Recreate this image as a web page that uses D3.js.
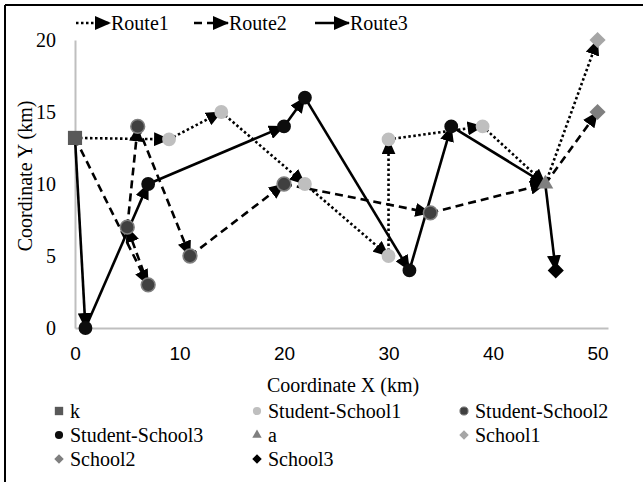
<!DOCTYPE html>
<html>
<head>
<meta charset="utf-8">
<script src="https://cdn.jsdelivr.net/npm/d3@7"></script>
<style>
  body { margin: 0; background: #fff; }
</style>
</head>
<body>
<div id="chart"></div>
<script>
(() => {
  // point series (x, y in km)
  const kX = [0], kY = [13.2];
  const ss1X = [9, 14, 22, 30, 30, 39], ss1Y = [13.1, 15, 10, 5, 13.1, 14];
  const ss2X = [6, 5, 7, 11, 20, 34], ss2Y = [14, 7, 3, 5, 10, 8];
  const ss3X = [1, 7, 20, 22, 32, 36], ss3Y = [0, 10, 14, 16, 4, 14];
  const aX = [45], aY = [10];
  const school1X = [50], school1Y = [20];
  const school2X = [50], school2Y = [15];
  const school3X = [46], school3Y = [4];

  // routes (visiting order)
  const route1X = [0, 9, 14, 22, 30, 30, 39, 45, 50];
  const route1Y = [13.2, 13.1, 15, 10, 5, 13.1, 14, 10, 20];
  const route2X = [0, 7, 5, 6, 11, 20, 34, 45, 50];
  const route2Y = [13.2, 3, 7, 14, 5, 10, 8, 10, 15];
  const route3X = [0, 1, 7, 20, 22, 32, 36, 45, 46];
  const route3Y = [13.2, 0, 10, 14, 16, 4, 14, 10, 4];

  const xTicks = [0, 10, 20, 30, 40, 50];
  const yTicks = [0, 5, 10, 15, 20];

  const serif = "'Liberation Serif', 'Times New Roman', serif";
  const sans = "'Liberation Sans', Arial, sans-serif";

  const W = 643, H = 482;
  const svg = d3.select("#chart").append("svg")
    .attr("width", W).attr("height", H);

  // frame (left + top edges)
  svg.append("line").attr("x1", 5).attr("y1", 5).attr("x2", W).attr("y2", 5)
    .attr("stroke", "#000").attr("stroke-width", 2);
  svg.append("line").attr("x1", 5).attr("y1", 5).attr("x2", 5).attr("y2", H)
    .attr("stroke", "#000").attr("stroke-width", 2);

  let x = d3.scaleLinear().domain([0, 51]).range([75, 608]);
  let y = d3.scaleLinear().domain([0, 20]).range([328, 40]);

  // axes
  let xAxis = svg.append("g")
    .attr("transform", `translate(0,${y(0)})`)
    .call(d3.axisBottom(x).tickValues(xTicks).tickSize(0).tickSizeOuter(0).tickPadding(19));
  xAxis.select(".domain").attr("stroke", "#bfbfbf").attr("stroke-width", 2);
  xAxis.selectAll("text")
    .attr("font-family", sans).attr("font-size", 19).attr("fill", "#000");

  let yAxis = svg.append("g")
    .attr("transform", `translate(${x(0)},0)`)
    .call(d3.axisLeft(y).tickValues(yTicks).tickSize(0).tickSizeOuter(0).tickPadding(19));
  yAxis.select(".domain").attr("stroke", "#bfbfbf").attr("stroke-width", 2);
  yAxis.selectAll("text")
    .attr("font-family", serif).attr("font-size", 20).attr("fill", "#000");

  // axis titles
  svg.append("text")
    .attr("x", 343).attr("y", 392)
    .attr("text-anchor", "middle")
    .attr("font-family", serif).attr("font-size", 20)
    .text("Coordinate X (km)");
  svg.append("text")
    .attr("transform", "rotate(-90)")
    .attr("x", -176).attr("y", 32)
    .attr("text-anchor", "middle")
    .attr("font-family", serif).attr("font-size", 20)
    .text("Coordinate Y (km)");

  // arrowhead
  svg.append("defs").append("marker")
    .attr("id", "arrow")
    .attr("markerUnits", "userSpaceOnUse")
    .attr("markerWidth", 16).attr("markerHeight", 14)
    .attr("refX", 15).attr("refY", 7)
    .attr("orient", "auto")
    .append("path")
    .attr("d", "M0,0 L16,7 L0,14 Z")
    .attr("fill", "#000");

  const routes = [
    { name: "Route1", xs: route1X, ys: route1Y, dash: "2.5,2.5" },
    { name: "Route2", xs: route2X, ys: route2Y, dash: "8,5" },
    { name: "Route3", xs: route3X, ys: route3Y, dash: null }
  ];

  routes.forEach(r => {
    let segs = d3.range(r.xs.length - 1).map(i => [i, i + 1]);
    svg.append("g").selectAll("line")
      .data(segs)
      .enter().append("line")
      .attr("x1", d => x(r.xs[d[0]]))
      .attr("y1", d => y(r.ys[d[0]]))
      .attr("x2", d => x(r.xs[d[1]]))
      .attr("y2", d => y(r.ys[d[1]]))
      .attr("stroke", "#000")
      .attr("stroke-width", 2.6)
      .attr("stroke-dasharray", r.dash)
      .attr("marker-end", "url(#arrow)");
  });

  // point series; diamonds are squares turned 45 degrees
  const series = [
    { name: "k", xs: kX, ys: kY, shape: d3.symbolSquare, size: 200, rot: 0, fill: "#595959", stroke: "none" },
    { name: "Student-School1", xs: ss1X, ys: ss1Y, shape: d3.symbolCircle, size: 150, rot: 0, fill: "#bfbfbf", stroke: "none" },
    { name: "Student-School2", xs: ss2X, ys: ss2Y, shape: d3.symbolCircle, size: 150, rot: 0, fill: "#404040", stroke: "#7f7f7f" },
    { name: "Student-School3", xs: ss3X, ys: ss3Y, shape: d3.symbolCircle, size: 150, rot: 0, fill: "#0d0d0d", stroke: "none" },
    { name: "a", xs: aX, ys: aY, shape: d3.symbolTriangle, size: 110, rot: 0, fill: "#7f7f7f", stroke: "none" },
    { name: "School1", xs: school1X, ys: school1Y, shape: d3.symbolSquare, size: 130, rot: 45, fill: "#a6a6a6", stroke: "none" },
    { name: "School2", xs: school2X, ys: school2Y, shape: d3.symbolSquare, size: 130, rot: 45, fill: "#7f7f7f", stroke: "none" },
    { name: "School3", xs: school3X, ys: school3Y, shape: d3.symbolSquare, size: 130, rot: 45, fill: "#000", stroke: "none" }
  ];

  series.forEach(s => {
    svg.append("g").selectAll("path")
      .data(s.xs.map((v, i) => [v, s.ys[i]]))
      .enter().append("path")
      .attr("transform", d => `translate(${x(d[0])},${y(d[1])}) rotate(${s.rot})`)
      .attr("d", d3.symbol().type(s.shape).size(s.size))
      .attr("fill", s.fill)
      .attr("stroke", s.stroke)
      .attr("stroke-width", 1.5);
  });

  // top legend (routes)
  let topLegend = svg.append("g");
  const topPos = [76, 194, 315];
  routes.forEach((r, i) => {
    topLegend.append("line")
      .attr("x1", topPos[i]).attr("y1", 23)
      .attr("x2", topPos[i] + 34).attr("y2", 23)
      .attr("stroke", "#000").attr("stroke-width", 2.6)
      .attr("stroke-dasharray", r.dash)
      .attr("marker-end", "url(#arrow)");
    topLegend.append("text")
      .attr("x", topPos[i] + 35).attr("y", 30)
      .attr("font-family", serif).attr("font-size", 20)
      .text(r.name);
  });

  // bottom legend (points)
  let legend = svg.append("g");
  const colX = [59, 257, 464], rowY = [411, 435, 459];
  series.forEach((s, i) => {
    let cx = colX[i % 3], cy = rowY[Math.floor(i / 3)];
    legend.append("path")
      .attr("transform", `translate(${cx},${cy}) rotate(${s.rot})`)
      .attr("d", d3.symbol().type(s.shape).size(s.size * 0.35))
      .attr("fill", s.fill)
      .attr("stroke", s.stroke)
      .attr("stroke-width", 1);
    legend.append("text")
      .attr("x", cx + 11).attr("y", cy + 7)
      .attr("font-family", serif).attr("font-size", 20)
      .text(s.name);
  });
})();
</script>
</body>
</html>
